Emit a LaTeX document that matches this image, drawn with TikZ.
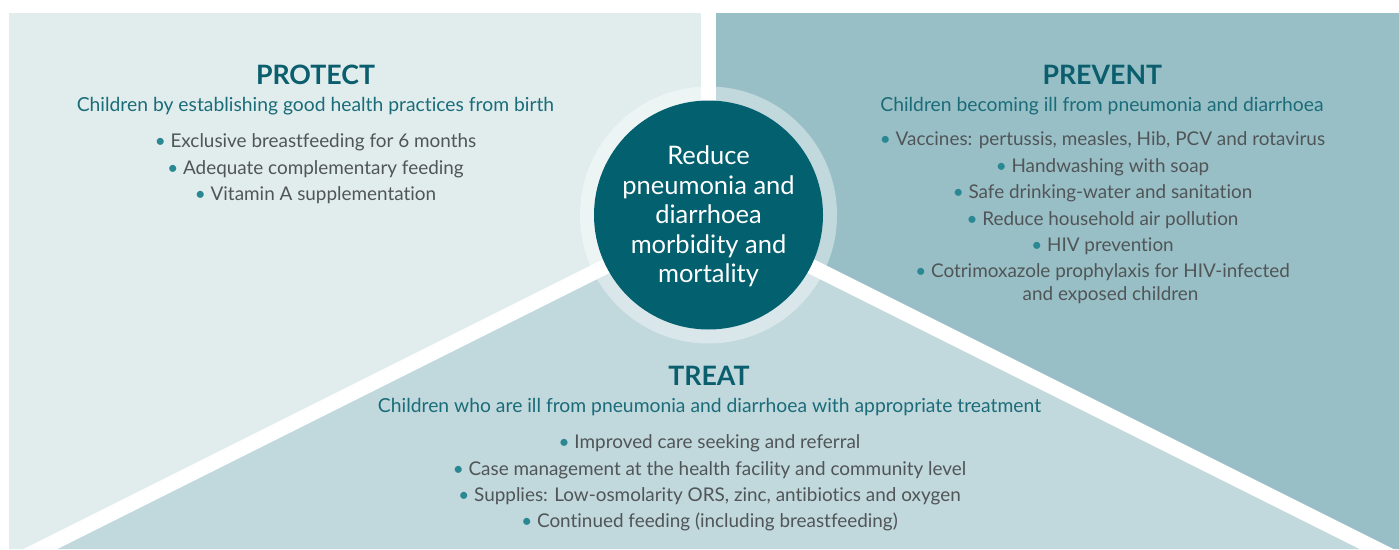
\documentclass[tikz,border=0pt]{standalone}
\usepackage{fontspec}
\setmainfont{Lato}[Ligatures={NoCommon}]
\definecolor{protectcol}{HTML}{E1EDED}
\definecolor{preventcol}{HTML}{99BFC6}
\definecolor{treatcol}{HTML}{C1D8DD}
\definecolor{circcol}{HTML}{03606F}
\definecolor{ttlcol}{HTML}{0B5E6D}
\definecolor{subcol}{HTML}{1A6C79}
\definecolor{bulcol}{HTML}{505557}
\definecolor{dotcol}{HTML}{2A8893}
\newcommand\bdot{{\color{dotcol}\textbullet}\ }
\tikzset{
  ttl/.style={font=\fontsize{26.7}{26.7}\selectfont\bfseries, text=ttlcol, anchor=base, inner sep=0pt},
  subttl/.style={font=\fontsize{19.3}{19.3}\selectfont, text=subcol, anchor=base, inner sep=0pt},
  bulline/.style={font=\fontsize{18.9}{18.9}\selectfont, text=bulcol, anchor=base, inner sep=0pt},
  midtext/.style={font=\fontsize{25.5}{29.5}\selectfont, text=white, align=center, inner sep=0pt},
}
\begin{document}
\begin{tikzpicture}[x=1pt,y=-1pt]
\useasboundingbox (0,0) rectangle (1399,549);
\coordinate (C) at (708.5,215);
% panels
\fill[protectcol] (9,13) -- (708.5,13) -- (C) -- (40.5,549) -- (9,549) -- cycle;
\fill[preventcol] (708.5,13) -- (1399,13) -- (1399,549) -- (1376.5,549) -- (C) -- cycle;
\fill[treatcol] (C) -- (40.5,549) -- (1376.5,549) -- cycle;
% white gaps
\begin{scope}
\clip (9,13) rectangle (1399,549);
\draw[white, line width=15pt] (C) -- (708.5,0);
\draw[white, line width=15pt] (C) -- ++(-800,400);
\draw[white, line width=15pt] (C) -- ++(800,400);
\end{scope}
% centre
\fill[white, opacity=0.4] (C) circle[radius=128.5];
\node[circle, fill=circcol, minimum size=229pt, inner sep=0pt] (hub) at (C) {};
\node[midtext] (goal) at (708.5,216.5) {Reduce\\pneumonia and\\diarrhoea\\morbidity and\\mortality};
% PROTECT
\node[ttl] (pt) at (315.5,84.3) {PROTECT};
\node[subttl] (ps) at (315.5,111.5) {Children by establishing good health practices from birth};
\node[bulline] (p1) at (315.5,147.5) {\bdot Exclusive breastfeeding for 6 months};
\node[bulline] (p2) at (315.5,174) {\bdot Adequate complementary feeding};
\node[bulline] (p3) at (315.5,200.5) {\bdot Vitamin A supplementation};
% PREVENT
\node[ttl] (vt) at (1102.3,84.3) {PREVENT};
\node[subttl] (vs) at (1102,111) {Children becoming ill from pneumonia and diarrhoea};
\node[bulline] (v1) at (1102.5,145.5) {\bdot Vaccines: pertussis, measles, Hib, PCV and rotavirus};
\node[bulline] (v2) at (1102.5,172) {\bdot Handwashing with soap};
\node[bulline] (v3) at (1102.5,198.5) {\bdot Safe drinking-water and sanitation};
\node[bulline] (v4) at (1102.5,225) {\bdot Reduce household air pollution};
\node[bulline] (v5) at (1102.5,251.5) {\bdot HIV prevention};
\node[bulline] (v6) at (1102.5,277.7) {\bdot Cotrimoxazole prophylaxis for HIV-infected};
\node[bulline] (v7) at (1110.5,300) {and exposed children};
% TREAT
\node[ttl] (tt) at (709,385.7) {TREAT};
\node[subttl] (ts) at (709.5,412.3) {Children who are ill from pneumonia and diarrhoea with appropriate treatment};
\node[bulline] (t1) at (709.5,448.3) {\bdot Improved care seeking and referral};
\node[bulline] (t2) at (709.5,475) {\bdot Case management at the health facility and community level};
\node[bulline] (t3) at (709.5,501.3) {\bdot Supplies: Low-osmolarity ORS, zinc, antibiotics and oxygen};
\node[bulline] (t4) at (709.5,527.5) {\bdot Continued feeding (including breastfeeding)};
\end{tikzpicture}
\end{document}
